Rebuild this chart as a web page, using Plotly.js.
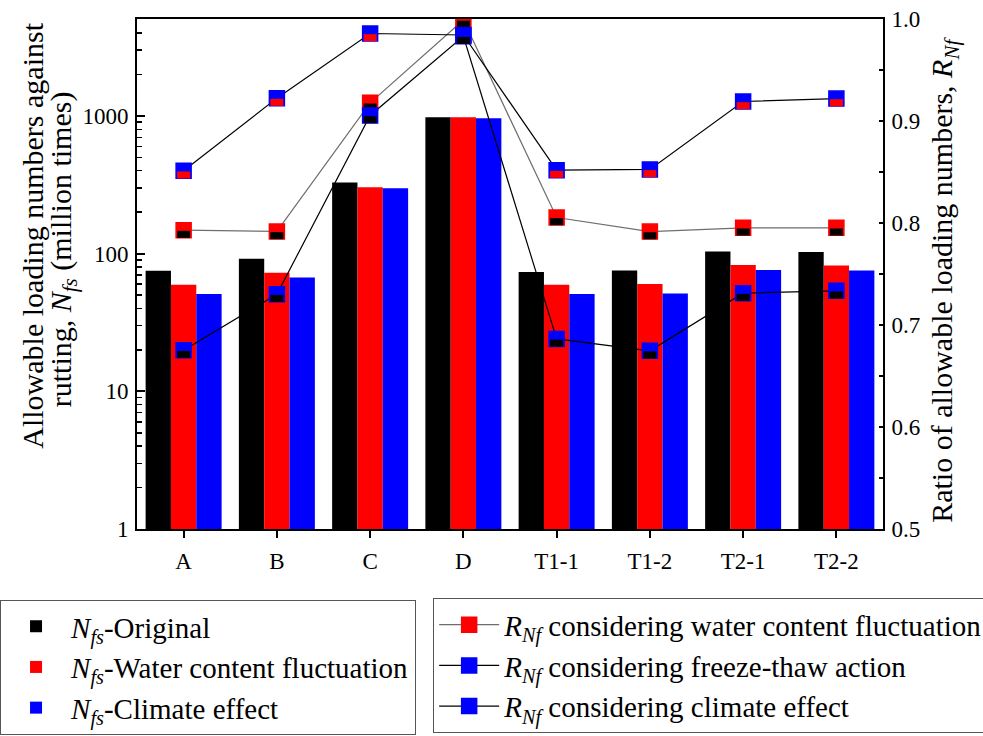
<!DOCTYPE html>
<html>
<head>
<meta charset="utf-8">
<script src="https://cdn.plot.ly/plotly-3.0.1.min.js"></script>
<style>html,body{margin:0;padding:0;background:#fff;}#chart{width:983px;height:736px;}</style>
</head>
<body>
<div id="chart"></div>
<script>
// ---- data ----
const categories = ["A", "B", "C", "D", "T1-1", "T1-2", "T2-1", "T2-2"];
const nfsOriginal = [75.2, 91.8, 328, 980, 73.5, 75.5, 103.7, 102.6];
const nfsWater    = [59.5, 72.7, 304, 980, 59.5, 60.2, 82.7, 82.1];
const nfsClimate  = [50.9, 67.2, 299, 964, 50.9, 51.4, 76.0, 75.5];
const rWater      = [0.793, 0.7917, 0.9178, 0.999, 0.8054, 0.7916, 0.7953, 0.7953];
const rFreeze     = [0.8512, 0.9224, 0.9858, 0.9843, 0.8518, 0.8525, 0.9191, 0.9220];
const rClimate    = [0.6753, 0.7302, 0.9054, 0.9831, 0.6863, 0.6747, 0.7312, 0.7335];
const leftTicks   = [1, 10, 100, 1000];

// ---- style ----
const FONT = "Liberation Serif, Times New Roman, serif";
const BLACK = "#000000", RED = "#ff0000", BLUE = "#0000ff", GRAY = "#6e6e6e";
const SHIFT = 0.0041; // vertical offset (axis units) for lower half of two-tone markers

const minorVals = [];
for (let d = 0; d < 4; d++) for (let k = 2; k <= 9; k++) minorVals.push(k * Math.pow(10, d));

function bar(name, y, color) {
  return {type: "bar", name: name, x: categories, y: y, yaxis: "y",
    marker: {color: color, line: {width: 0}}, legend: "legend", legendgroup: name};
}
function fullMarker(name, y, axis, lineColor, topColor, borderColor, grp) {
  return {type: "scatter", mode: "lines+markers", name: name, x: categories, y: y, yaxis: axis,
    line: {color: lineColor, width: 1.2},
    marker: {symbol: "square", size: 15, color: topColor, line: {color: borderColor, width: 1.5}},
    legend: "legend2", legendgroup: grp};
}
function halfMarker(y, axis, color, grp) {
  return {type: "scatter", mode: "markers", x: categories, y: y, yaxis: axis, showlegend: false,
    hoverinfo: "skip", legendgroup: grp,
    marker: {symbol: "line-ew", size: 9.3, color: color, line: {color: color, width: 7}}};
}

const nfs = "<i>N</i><sub><i>fs</i></sub>";
const rnf = "<i>R</i><sub><i>Nf</i></sub>";

const traces = [
  bar(nfs + "-Original", nfsOriginal, BLACK),
  bar(nfs + "-Water content fluctuation", nfsWater, RED),
  bar(nfs + "-Climate effect", nfsClimate, BLUE),
  fullMarker(rnf + " considering water content fluctuation", rWater, "y2", GRAY, RED, RED, "w"),
  halfMarker(rWater, "y3", BLACK, "w"),
  fullMarker(rnf + " considering freeze-thaw action", rFreeze, "y4", BLACK, BLUE, BLUE, "f"),
  halfMarker(rFreeze, "y5", RED, "f"),
  fullMarker(rnf + " considering climate effect", rClimate, "y6", BLACK, BLUE, BLUE, "c"),
  halfMarker(rClimate, "y7", BLACK, "c")
];

const R2 = [0.5, 1.0];
const R3 = [0.5 + SHIFT, 1.0 + SHIFT];
function hidden(range) {
  return {overlaying: "y", side: "right", range: range, visible: false, fixedrange: true};
}

const layout = {
  width: 983, height: 736,
  margin: {l: 137, r: 100, t: 19, b: 206.5, pad: 0, autoexpand: false},
  paper_bgcolor: "#ffffff", plot_bgcolor: "#ffffff",
  font: {family: FONT, size: 23, color: "#000"},
  barmode: "group", bargap: 0.185, bargroupgap: 0,
  showlegend: true,
  xaxis: {
    type: "category", range: [-0.5, 7.5],
    showline: true, linecolor: "#000", linewidth: 2, mirror: true,
    ticks: "outside", ticklen: 7, tickwidth: 2, tickcolor: "#000",
    showgrid: false, zeroline: false, ticklabelstandoff: 3,
    tickfont: {family: FONT, size: 23, color: "#000"}
  },
  yaxis: {
    type: "log", range: [0, 3.704],
    tickvals: leftTicks, ticktext: leftTicks.map(String),
    showline: true, linecolor: "#000", linewidth: 2,
    ticks: "inside", ticklen: 8, tickwidth: 2, tickcolor: "#000",
    minor: {tickvals: minorVals, ticks: "inside", ticklen: 5, tickwidth: 1.5, tickcolor: "#000", showgrid: false},
    showgrid: false, zeroline: false, ticklabelstandoff: 2,
    tickfont: {family: FONT, size: 23, color: "#000"}
  },
  yaxis2: {
    overlaying: "y", side: "right", range: R2, dtick: 0.1, tick0: 0.5, tickformat: ".1f",
    showline: true, linecolor: "#000", linewidth: 2,
    ticks: "inside", ticklen: 4, tickwidth: 1.5, tickcolor: "#000",
    minor: {dtick: 0.05, ticks: "inside", ticklen: 4, tickwidth: 1.5, tickcolor: "#000", showgrid: false},
    showgrid: false, zeroline: false, ticklabelstandoff: 2,
    tickfont: {family: FONT, size: 23, color: "#000"}
  },
  yaxis3: hidden(R3),
  yaxis4: hidden(R2),
  yaxis5: hidden(R3),
  yaxis6: hidden(R2),
  yaxis7: hidden(R3),
  legend: {
    x: -0.1836, y: -0.139, xanchor: "left", yanchor: "top",
    bgcolor: "#fff", bordercolor: "#555", borderwidth: 1,
    font: {family: FONT, size: 29, color: "#000"},
    itemwidth: 60, tracegroupgap: 0, traceorder: "grouped"
  },
  legend2: {
    x: 0.397, y: -0.136, xanchor: "left", yanchor: "top",
    bgcolor: "#fff", bordercolor: "#555", borderwidth: 1,
    font: {family: FONT, size: 29, color: "#000"},
    itemwidth: 60, tracegroupgap: 0, traceorder: "grouped"
  },
  annotations: [
    {text: "Allowable loading numbers against", xref: "paper", yref: "paper",
     x: -0.1394, y: 0.575, xanchor: "center", yanchor: "middle", textangle: -90, showarrow: false,
     font: {family: FONT, size: 30, color: "#000"}},
    {text: "rutting, " + nfs + " (million times)", xref: "paper", yref: "paper",
     x: -0.0992, y: 0.5485, xanchor: "center", yanchor: "middle", textangle: -90, showarrow: false,
     font: {family: FONT, size: 30, color: "#000"}},
    {text: "Ratio of allowable loading numbers, " + rnf, xref: "paper", yref: "paper",
     x: 1.0818, y: 0.4887, xanchor: "center", yanchor: "middle", textangle: -90, showarrow: false,
     font: {family: FONT, size: 30, color: "#000"}}
  ]
};

Plotly.newPlot("chart", traces, layout, {staticPlot: true, displayModeBar: false});
</script>
</body>
</html>
